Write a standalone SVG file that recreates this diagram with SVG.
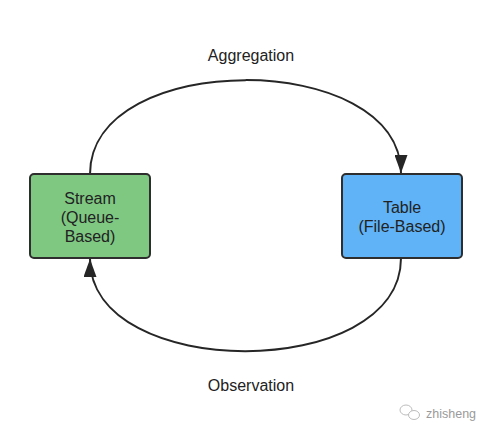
<svg xmlns="http://www.w3.org/2000/svg" width="492" height="437" viewBox="0 0 492 437">
<style>
text{font-family:"Liberation Sans",Arial,sans-serif;fill:#222222;font-size:16px;text-anchor:middle}
.box{stroke:#2e2e2e;stroke-width:2}
.edge{fill:none;stroke:#262626;stroke-width:2}
.wm{fill:#9a9a9a;font-size:12.5px;text-anchor:start}
</style>
<defs>
<marker id="arr" markerUnits="userSpaceOnUse" markerWidth="19" markerHeight="13" refX="18" refY="6.5" orient="auto" viewBox="0 0 19 13">
<path d="M0,0 L18,6.5 L0,13 Z" fill="#262626"/>
</marker>
</defs>
<rect width="492" height="437" fill="#ffffff"/>
<g id="connectors">
<path class="edge" d="M90,174 C90,49 401,49 401,173" marker-end="url(#arr)"/>
<path class="edge" d="M401,258 C401,382 90,382 90,259" marker-end="url(#arr)"/>
<text x="251" y="61">Aggregation</text>
<text x="251" y="391">Observation</text>
</g>
<g id="stream">
<rect class="box" x="30" y="174" width="120" height="84" rx="4" fill="#7fc882"/>
<text x="90" y="204">Stream</text>
<text x="90" y="223">(Queue-</text>
<text x="90" y="242">Based)</text>
</g>
<g id="table">
<rect class="box" x="342" y="174" width="120" height="84" rx="4" fill="#60b3f6"/>
<text x="402" y="213">Table</text>
<text x="402" y="232">(File-Based)</text>
</g>
<g id="watermark">
<ellipse cx="406" cy="410" rx="6" ry="5" fill="none" stroke="#bdbdbd" stroke-width="1"/>
<ellipse cx="414" cy="415" rx="5.5" ry="4.5" fill="#ffffff" stroke="#bdbdbd" stroke-width="1"/>
<text class="wm" x="426" y="418">zhisheng</text>
</g>
</svg>
